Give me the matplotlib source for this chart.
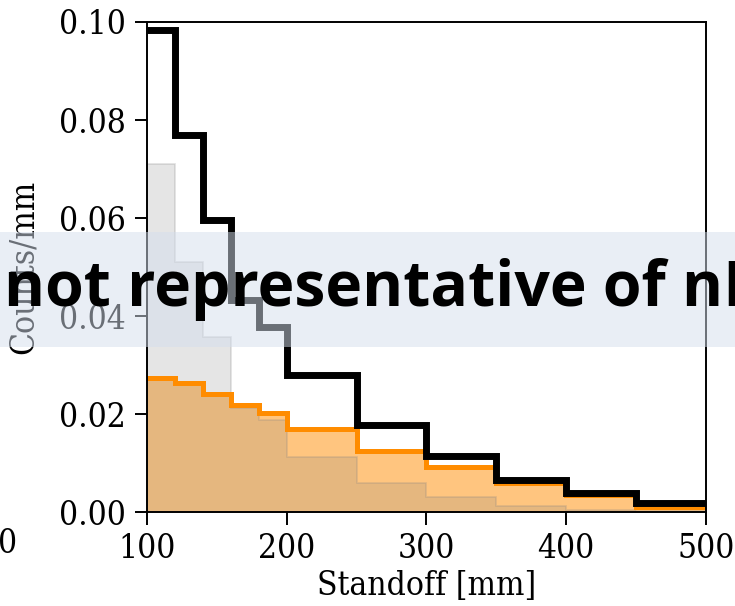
import numpy as np
import matplotlib
matplotlib.use("Agg")
import matplotlib.pyplot as plt
from matplotlib.patches import Rectangle

# bin edges [mm]
edges = [100, 120, 140, 160, 180, 200, 250, 300, 350, 400, 450, 500]

# counts per mm for each population
black_vals = [0.0984, 0.0770, 0.0596, 0.0433, 0.0378, 0.0280, 0.0177, 0.0114, 0.0065, 0.0038, 0.0019]
orange_vals = [0.0274, 0.0263, 0.0240, 0.0218, 0.0202, 0.0169, 0.0124, 0.0092, 0.0059, 0.0035, 0.0011]
grey_vals = [0.0710, 0.0510, 0.0357, 0.0212, 0.0188, 0.0112, 0.0059, 0.0030, 0.0013, 0.0005, 0.0002]

xticks = [100, 200, 300, 400, 500]
yticks = [0.00, 0.02, 0.04, 0.06, 0.08, 0.10]

plt.rcParams['font.family'] = 'DejaVu Serif'
plt.rcParams['font.stretch'] = 'condensed'

fig = plt.figure(figsize=(7.35, 6.06), dpi=100)
ax = fig.add_axes([0.2, 0.155, 0.7605, 0.8087])

ax.stairs(orange_vals, edges, fill=True, color='darkorange', alpha=0.5, lw=0)
ax.stairs(grey_vals, edges, fill=True, facecolor=(0.5, 0.5, 0.5, 0.2),
          edgecolor=(0.5, 0.5, 0.5, 0.25), lw=1.2)
ax.stairs(orange_vals, edges, baseline=None, color='darkorange', lw=3.6)
ax.stairs(black_vals, edges, baseline=None, color='black', lw=5)

ax.set_xlim(100, 500)
ax.set_ylim(0, 0.10)
ax.set_xticks(xticks)
ax.set_yticks(yticks)
ax.set_yticklabels(['%.2f' % v for v in yticks])
ax.tick_params(labelsize=24, length=9, width=1.4, pad=6)
for s in ax.spines.values():
    s.set_linewidth(1.4)

ax.set_xlabel('Standoff [mm]', fontsize=24, labelpad=4)
ax.set_ylabel('Counts/mm', fontsize=24, labelpad=14)

# stray tick label from the neighbouring panel
ax.text(0, -0.0033, '0', fontsize=24, ha='center', va='top', clip_on=False)

# watermark band
fig.patches.append(Rectangle((0, 0.4274), 1, 0.19, transform=fig.transFigure,
                             facecolor=(0.83, 0.87, 0.93), alpha=0.5, lw=0, zorder=10))
fig.text(0.005, 0.5225, 'not representative of nEXO', fontsize=45, fontweight='bold',
         family='Open Sans', stretch='normal', va='center', ha='left', zorder=11)

fig.savefig('out.png', dpi=100)
